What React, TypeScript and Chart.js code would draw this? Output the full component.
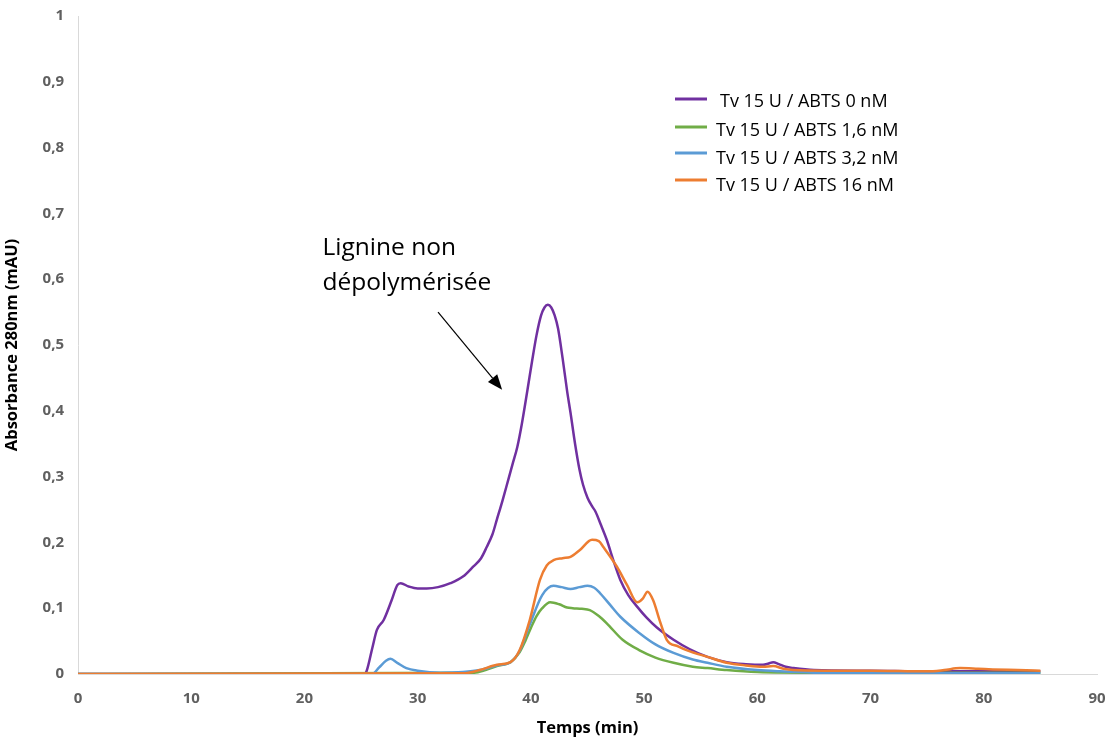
import React, { useEffect, useRef } from "react";
import { Chart, registerables } from "chart.js";

Chart.register(...registerables);

const seriesLabels = [
  "Tv 15 U / ABTS 0 nM",
  "Tv 15 U / ABTS 1,6 nM",
  "Tv 15 U / ABTS 3,2 nM",
  "Tv 15 U / ABTS 16 nM",
];
const seriesColors = ["#7030A0", "#70AD47", "#5B9BD5", "#ED7D31"];

const timePurple = [0, 25.3, 25.5, 26.0, 26.4, 27.0, 27.7, 28.2, 28.5, 29.2, 30.0, 30.8, 31.8, 32.9, 34.0, 34.9, 35.6, 36.1, 36.6, 37.0, 37.5, 38.0, 38.4, 38.8, 39.2, 39.7, 40.1, 40.5, 40.9, 41.2, 41.5, 41.8, 42.1, 42.4, 42.8, 43.2, 43.5, 43.9, 44.3, 44.6, 45.0, 45.4, 45.7, 46.2, 46.7, 47.3, 47.9, 48.6, 49.4, 50.2, 51.1, 52.6, 54.0, 55.6, 57.3, 59.0, 60.5, 61.0, 61.4, 61.9, 62.5, 63.2, 65, 70, 75, 80, 85];
const absPurple = [0, 0, 0.005, 0.04, 0.067, 0.082, 0.112, 0.135, 0.138, 0.133, 0.130, 0.130, 0.132, 0.138, 0.148, 0.163, 0.176, 0.193, 0.212, 0.235, 0.264, 0.295, 0.32, 0.345, 0.38, 0.432, 0.475, 0.515, 0.545, 0.557, 0.561, 0.557, 0.545, 0.525, 0.48, 0.43, 0.397, 0.35, 0.31, 0.288, 0.268, 0.255, 0.247, 0.226, 0.204, 0.172, 0.143, 0.12, 0.102, 0.086, 0.071, 0.052, 0.038, 0.026, 0.018, 0.015, 0.014, 0.016, 0.018, 0.015, 0.011, 0.009, 0.006, 0.005, 0.004, 0.004, 0.004];

const timeGreen = [0, 35, 36, 37, 38.2, 39.0, 39.5, 40.0, 40.5, 41.0, 41.7, 42.5, 43.2, 43.7, 44.5, 45.2, 46.0, 46.7, 48.1, 49.6, 51, 52.6, 54.3, 55.6, 57.3, 60, 65, 70, 75, 80, 85];
const absGreen = [0, 0.002, 0.006, 0.012, 0.018, 0.033, 0.05, 0.07, 0.088, 0.1, 0.109, 0.106, 0.101, 0.1, 0.099, 0.097, 0.088, 0.077, 0.052, 0.036, 0.025, 0.017, 0.011, 0.009, 0.006, 0.003, 0.002, 0.002, 0.002, 0.002, 0.002];

const timeBlue = [0, 26.0, 26.6, 27.2, 27.6, 28.2, 29.0, 30.0, 32, 34, 35.5, 37, 38.2, 39.0, 39.9, 41.0, 42.0, 42.7, 43.5, 44.3, 45.0, 45.6, 46.1, 47.0, 47.9, 49.6, 51, 52.6, 54.3, 55.6, 57.3, 60, 62, 65, 70, 75, 80, 85];
const absBlue = [0, 0, 0.01, 0.02, 0.023, 0.017, 0.009, 0.005, 0.002, 0.003, 0.006, 0.013, 0.018, 0.035, 0.075, 0.12, 0.134, 0.132, 0.129, 0.132, 0.134, 0.131, 0.123, 0.105, 0.087, 0.062, 0.045, 0.032, 0.022, 0.017, 0.011, 0.006, 0.004, 0.002, 0.001, 0.001, 0.001, 0.001];

const timeOrange = [0, 34, 35.5, 37, 38.2, 39.0, 39.9, 40.8, 41.4, 42.0, 42.8, 43.5, 44.3, 45.4, 46.0, 46.4, 47.6, 48.5, 49.4, 49.9, 50.3, 50.8, 51.4, 52.0, 53.0, 53.8, 55.6, 57.3, 59, 60.5, 61.4, 62.3, 63.2, 66, 70, 75, 76.5, 77.9, 79.5, 80.8, 83, 85];
const absOrange = [0, 0.001, 0.006, 0.014, 0.018, 0.036, 0.082, 0.143, 0.165, 0.173, 0.176, 0.178, 0.188, 0.204, 0.202, 0.193, 0.163, 0.135, 0.109, 0.115, 0.125, 0.112, 0.08, 0.052, 0.042, 0.036, 0.026, 0.017, 0.013, 0.011, 0.012, 0.008, 0.006, 0.005, 0.005, 0.004, 0.006, 0.009, 0.008, 0.007, 0.006, 0.005];

const seriesTimes = [timePurple, timeGreen, timeBlue, timeOrange];
const seriesValues = [absPurple, absGreen, absBlue, absOrange];

const annotationLines = ["Lignine non", "dépolymérisée"];
const xTitle = "Temps (min)";
const yTitle = "Absorbance 280nm (mAU)";

const FONT = "'Open Sans', 'DejaVu Sans', sans-serif";

const overlayPlugin = {
  id: "overlay",
  afterDraw(chart: any) {
    const { ctx, scales } = chart;
    const xs = scales.x;
    const ys = scales.y;
    ctx.save();
    // annotation text
    ctx.fillStyle = "#000000";
    ctx.font = `24.5px ${FONT}`;
    ctx.textAlign = "left";
    ctx.textBaseline = "middle";
    const tx = xs.getPixelForValue(21.6);
    ctx.fillText(annotationLines[0], tx, ys.getPixelForValue(0.647));
    ctx.fillText(annotationLines[1], tx, ys.getPixelForValue(0.594));
    // arrow
    const x1 = xs.getPixelForValue(31.8);
    const y1 = ys.getPixelForValue(0.55);
    const x2 = xs.getPixelForValue(37.46);
    const y2 = ys.getPixelForValue(0.432);
    const ang = Math.atan2(y2 - y1, x2 - x1);
    const headLen = 15;
    const headW = 6;
    ctx.strokeStyle = "#000000";
    ctx.lineWidth = 1.2;
    ctx.beginPath();
    ctx.moveTo(x1, y1);
    ctx.lineTo(x2 - Math.cos(ang) * headLen, y2 - Math.sin(ang) * headLen);
    ctx.stroke();
    ctx.beginPath();
    ctx.moveTo(x2, y2);
    const bx = x2 - Math.cos(ang) * headLen;
    const by = y2 - Math.sin(ang) * headLen;
    ctx.lineTo(bx + Math.sin(ang) * headW, by - Math.cos(ang) * headW);
    ctx.lineTo(bx - Math.sin(ang) * headW, by + Math.cos(ang) * headW);
    ctx.closePath();
    ctx.fill();
    // legend
    const lx = 675;
    const lineRows = [99, 127, 153, 180];
    const textRows = [102, 131, 159, 186];
    ctx.font = `18px ${FONT}`;
    ctx.fillStyle = "#000000";
    for (let i = 0; i < seriesLabels.length; i++) {
      ctx.strokeStyle = seriesColors[i];
      ctx.lineWidth = 3;
      ctx.beginPath();
      ctx.moveTo(lx, lineRows[i]);
      ctx.lineTo(lx + 32, lineRows[i]);
      ctx.stroke();
      ctx.fillText(seriesLabels[i], i === 0 ? 720 : 716, textRows[i]);
    }
    ctx.restore();
  },
};

export default function App() {
  const canvasRef = useRef<HTMLCanvasElement | null>(null);

  useEffect(() => {
    if (!canvasRef.current) return;
    const datasets = seriesLabels.map((label, i) => ({
      label,
      data: seriesTimes[i].map((t, j) => ({ x: t, y: seriesValues[i][j] })),
      borderColor: seriesColors[i],
      backgroundColor: seriesColors[i],
      borderWidth: 2.5,
      pointRadius: 0,
      fill: false,
      cubicInterpolationMode: "monotone" as const,
      order: 3 - i,
    }));
    const chart = new Chart(canvasRef.current, {
      type: "line",
      data: { datasets },
      plugins: [overlayPlugin],
      options: {
        responsive: false,
        animation: false,
        layout: { padding: { top: 16, right: 15, left: 0, bottom: 0 } },
        plugins: {
          legend: { display: false },
          tooltip: { enabled: false },
        },
        scales: {
          x: {
            type: "linear",
            min: 0,
            max: 90,
            afterFit: (s: any) => {
              s.height = 66;
              s.paddingLeft = 0;
              s.paddingRight = 0;
            },
            ticks: {
              stepSize: 10,
              color: "#5f5f5f",
              font: { family: FONT, size: 15, weight: "bold" },
              padding: 16,
              maxRotation: 0,
            },
            grid: { display: false, drawTicks: false },
            border: { display: true, color: "#D9D9D9", width: 1 },
            title: {
              display: true,
              text: xTitle,
              color: "#000000",
              font: { family: FONT, size: 16.5, weight: "bold" },
              padding: { top: 2, bottom: 2 },
            },
          },
          y: {
            type: "linear",
            min: 0,
            max: 1,
            afterFit: (s: any) => {
              s.width = 78;
              s.paddingTop = 0;
              s.paddingBottom = 0;
            },
            ticks: {
              stepSize: 0.1,
              color: "#5f5f5f",
              font: { family: FONT, size: 15, weight: "bold" },
              padding: 14,
              callback: (v: any) => String(Number(Number(v).toFixed(1))).replace(".", ","),
            },
            grid: { display: false, drawTicks: false },
            border: { display: true, color: "#D9D9D9", width: 1 },
            title: {
              display: true,
              text: yTitle,
              color: "#000000",
              font: { family: FONT, size: 16.5, weight: "bold" },
              padding: { top: 2, bottom: 4 },
            },
          },
        },
      },
    });
    return () => chart.destroy();
  }, []);

  return (
    <div style={{ position: "absolute", left: 0, top: 0, width: 1112, height: 740, background: "#ffffff" }}>
      <canvas ref={canvasRef} width={1112} height={740} />
    </div>
  );
}
